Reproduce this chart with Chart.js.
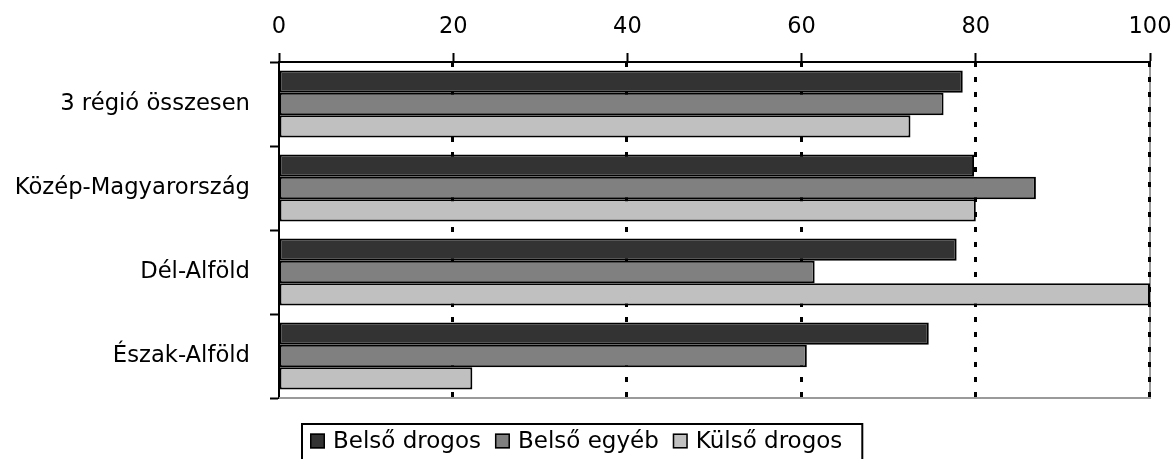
<!DOCTYPE html>
<html><head><meta charset="utf-8">
<script src="https://cdn.jsdelivr.net/npm/chart.js@4/dist/chart.umd.min.js"></script>
<style>html,body{margin:0;padding:0;background:#fff;}#wrap{width:1176px;height:459px;}</style>
</head><body><div id="wrap"><canvas id="c" width="1176" height="459"></canvas></div>
<script>
const categories = ['3 régió összesen', 'Közép-Magyarország', 'Dél-Alföld', 'Észak-Alföld'];
const seriesNames = ['Belső drogos', 'Belső egyéb', 'Külső drogos'];
const belsoDrogos = [78.5, 79.8, 77.8, 74.6];
const belsoEgyeb = [76.3, 86.9, 61.5, 60.6];
const kulsoDrogos = [72.5, 80.0, 100, 22.2];
const xTickValues = [0, 20, 40, 60, 80, 100];
const seriesColors = ['#333333', '#808080', '#c0c0c0'];

const FONT = "'DejaVu Sans', Verdana, sans-serif";
Chart.defaults.font.family = FONT;
Chart.defaults.font.size = 22;
Chart.defaults.color = '#000';

const gridPlugin = {
  id: 'dottedGrid',
  beforeDatasetsDraw(chart) {
    const ctx = chart.ctx, a = chart.chartArea, xs = chart.scales.x;
    ctx.save();
    ctx.strokeStyle = '#9a9a9a';
    ctx.lineWidth = 2;
    ctx.beginPath();
    ctx.moveTo(a.right, a.top);
    ctx.lineTo(a.right, a.bottom);
    ctx.lineTo(a.left, a.bottom);
    ctx.stroke();
    ctx.strokeStyle = '#000';
    ctx.lineWidth = 3;
    ctx.setLineDash([5, 10]);
    xTickValues.forEach(v => {
      if (v === 0) return;
      const px = Math.round(xs.getPixelForValue(v)) - 0.5;
      ctx.beginPath();
      ctx.moveTo(px, a.top);
      ctx.lineTo(px, a.bottom);
      ctx.stroke();
    });
    ctx.restore();
  }
};

const legendPlugin = {
  id: 'boxLegend',
  afterDraw(chart) {
    const ctx = chart.ctx;
    ctx.save();
    ctx.font = "23px " + FONT;
    ctx.textBaseline = 'middle';
    const box = 15, gapText = 8, gapItem = 14, pad = 8;
    const left = 302, top = 424, cy = 441;
    let x = left + pad;
    chart.data.datasets.forEach((ds, i) => {
      ctx.fillStyle = ds.backgroundColor;
      ctx.fillRect(x, cy - box / 2, box, box);
      ctx.strokeStyle = '#000';
      ctx.lineWidth = 1.5;
      ctx.strokeRect(x + 0.75, cy - box / 2 + 0.75, box - 1.5, box - 1.5);
      x += box + gapText;
      ctx.fillStyle = '#000';
      ctx.fillText(ds.label, x, cy + 1);
      x += ctx.measureText(ds.label).width;
      if (i < chart.data.datasets.length - 1) x += gapItem;
    });
    const right = x + 20;
    ctx.strokeStyle = '#000';
    ctx.lineWidth = 2;
    ctx.strokeRect(left, top, right - left, 60);
    ctx.restore();
  }
};

const seriesData = [belsoDrogos, belsoEgyeb, kulsoDrogos];

new Chart(document.getElementById('c'), {
  type: 'bar',
  data: {
    labels: categories,
    datasets: seriesNames.map((name, i) => ({
      label: name,
      data: seriesData[i],
      backgroundColor: seriesColors[i],
      borderColor: '#000',
      borderWidth: 2,
      borderSkipped: false,
      categoryPercentage: 0.8,
      barPercentage: 1.0
    }))
  },
  options: {
    indexAxis: 'y',
    responsive: false,
    animation: false,
    devicePixelRatio: 1,
    layout: { padding: { top: 0, right: 26, bottom: 61, left: 0 } },
    plugins: { legend: { display: false }, tooltip: { enabled: false } },
    scales: {
      x: {
        position: 'top',
        min: 0, max: 100,
        afterBuildTicks(s) { s.ticks = xTickValues.map(v => ({ value: v })); },
        ticks: { stepSize: 20, padding: 12, color: '#000', font: { size: 22.5 } },
        grid: { drawOnChartArea: false, drawTicks: true, tickLength: 9, tickColor: '#000', tickWidth: 2, color: '#000' },
        border: { display: true, color: '#000', width: 2 },
        afterFit(s) { s.height = 62; s.paddingLeft = 0; s.paddingRight = 0; }
      },
      y: {
        ticks: { padding: 20, color: '#000', font: { size: 22.7 } },
        grid: { drawOnChartArea: false, drawTicks: true, tickLength: 9, tickColor: '#000', tickWidth: 2, color: '#000', offset: true },
        border: { display: true, color: '#000', width: 2 },
        afterFit(s) { s.width = 279; s.paddingTop = 0; s.paddingBottom = 0; }
      }
    }
  },
  plugins: [gridPlugin, legendPlugin]
});
</script>
</body></html>
